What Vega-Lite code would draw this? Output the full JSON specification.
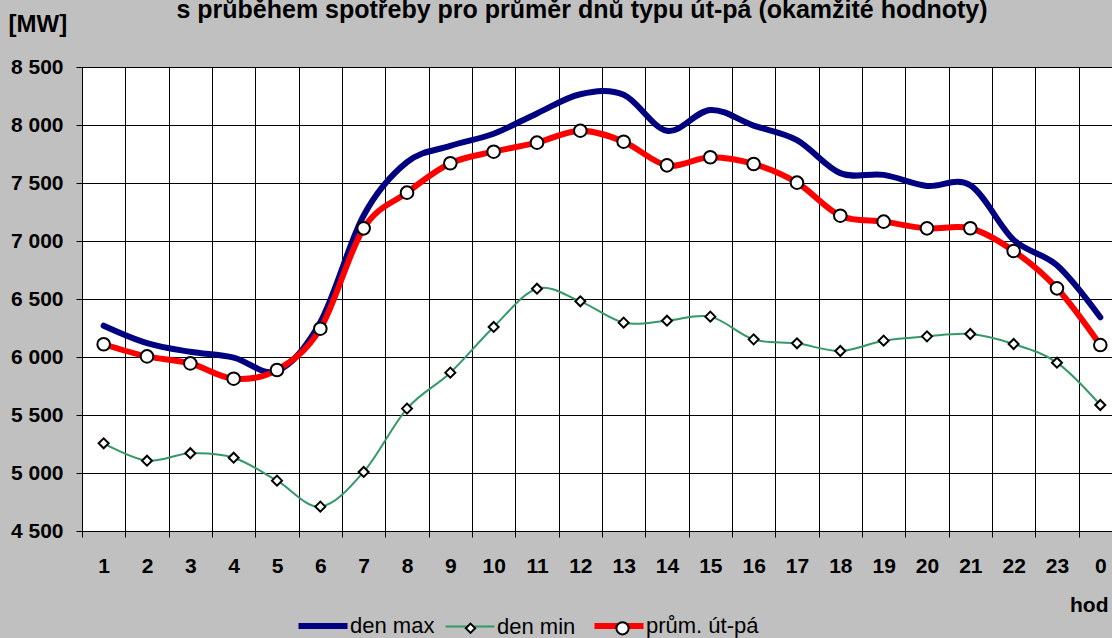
{
  "$schema": "https://vega.github.io/schema/vega-lite/v6.json",
  "width": 1030,
  "height": 464,
  "autosize": {"type": "none"},
  "padding": {"left": 82, "top": 67, "right": 0, "bottom": 107},
  "background": "#C0C0C0",
  "config": {"view": {"fill": "white", "stroke": null}, "font": "Liberation Sans"},
  "title": {"text": "s  průběhem spotřeby pro průměr dnů typu út-pá (okamžité hodnoty)", "fontSize": 25, "font": "Liberation Sans", "fontWeight": "bold", "color": "black", "anchor": "middle", "dx": -15, "offset": -31, "baseline": "alphabetic"},
  "data": {"values": [
    {"h": 1, "serie": "den max", "mw": 6270}, {"h": 2, "serie": "den max", "mw": 6120}, {"h": 3, "serie": "den max", "mw": 6045}, {"h": 4, "serie": "den max", "mw": 5995},
    {"h": 5, "serie": "den max", "mw": 5880}, {"h": 6, "serie": "den max", "mw": 6300}, {"h": 7, "serie": "den max", "mw": 7220}, {"h": 8, "serie": "den max", "mw": 7680},
    {"h": 9, "serie": "den max", "mw": 7820}, {"h": 10, "serie": "den max", "mw": 7925}, {"h": 11, "serie": "den max", "mw": 8100}, {"h": 12, "serie": "den max", "mw": 8265},
    {"h": 13, "serie": "den max", "mw": 8260}, {"h": 14, "serie": "den max", "mw": 7950}, {"h": 15, "serie": "den max", "mw": 8130}, {"h": 16, "serie": "den max", "mw": 7995},
    {"h": 17, "serie": "den max", "mw": 7870}, {"h": 18, "serie": "den max", "mw": 7585}, {"h": 19, "serie": "den max", "mw": 7570}, {"h": 20, "serie": "den max", "mw": 7475},
    {"h": 21, "serie": "den max", "mw": 7480}, {"h": 22, "serie": "den max", "mw": 7010}, {"h": 23, "serie": "den max", "mw": 6790}, {"h": 24, "serie": "den max", "mw": 6342},
    {"h": 1, "serie": "den min", "mw": 5256}, {"h": 2, "serie": "den min", "mw": 5106}, {"h": 3, "serie": "den min", "mw": 5170}, {"h": 4, "serie": "den min", "mw": 5132},
    {"h": 5, "serie": "den min", "mw": 4934}, {"h": 6, "serie": "den min", "mw": 4710}, {"h": 7, "serie": "den min", "mw": 5009}, {"h": 8, "serie": "den min", "mw": 5555},
    {"h": 9, "serie": "den min", "mw": 5865}, {"h": 10, "serie": "den min", "mw": 6259}, {"h": 11, "serie": "den min", "mw": 6589}, {"h": 12, "serie": "den min", "mw": 6480},
    {"h": 13, "serie": "den min", "mw": 6296}, {"h": 14, "serie": "den min", "mw": 6313}, {"h": 15, "serie": "den min", "mw": 6348}, {"h": 16, "serie": "den min", "mw": 6152},
    {"h": 17, "serie": "den min", "mw": 6118}, {"h": 18, "serie": "den min", "mw": 6052}, {"h": 19, "serie": "den min", "mw": 6141}, {"h": 20, "serie": "den min", "mw": 6178},
    {"h": 21, "serie": "den min", "mw": 6198}, {"h": 22, "serie": "den min", "mw": 6112}, {"h": 23, "serie": "den min", "mw": 5951}, {"h": 24, "serie": "den min", "mw": 5586},
    {"h": 1, "serie": "prům. út-pá", "mw": 6110}, {"h": 2, "serie": "prům. út-pá", "mw": 6005}, {"h": 3, "serie": "prům. út-pá", "mw": 5945}, {"h": 4, "serie": "prům. út-pá", "mw": 5813},
    {"h": 5, "serie": "prům. út-pá", "mw": 5888}, {"h": 6, "serie": "prům. út-pá", "mw": 6244}, {"h": 7, "serie": "prům. út-pá", "mw": 7109}, {"h": 8, "serie": "prům. út-pá", "mw": 7417},
    {"h": 9, "serie": "prům. út-pá", "mw": 7670}, {"h": 10, "serie": "prům. út-pá", "mw": 7770}, {"h": 11, "serie": "prům. út-pá", "mw": 7848}, {"h": 12, "serie": "prům. út-pá", "mw": 7951},
    {"h": 13, "serie": "prům. út-pá", "mw": 7856}, {"h": 14, "serie": "prům. út-pá", "mw": 7652}, {"h": 15, "serie": "prům. út-pá", "mw": 7722}, {"h": 16, "serie": "prům. út-pá", "mw": 7664},
    {"h": 17, "serie": "prům. út-pá", "mw": 7503}, {"h": 18, "serie": "prům. út-pá", "mw": 7218}, {"h": 19, "serie": "prům. út-pá", "mw": 7167}, {"h": 20, "serie": "prům. út-pá", "mw": 7109},
    {"h": 21, "serie": "prům. út-pá", "mw": 7110}, {"h": 22, "serie": "prům. út-pá", "mw": 6914}, {"h": 23, "serie": "prům. út-pá", "mw": 6592}, {"h": 24, "serie": "prům. út-pá", "mw": 6103}
  ]},
  "encoding": {
    "x": {
      "field": "h", "type": "quantitative",
      "scale": {"domain": [0.5, 24.27], "nice": false, "zero": false},
      "axis": {
        "values": [0.5, 1, 1.5, 2, 2.5, 3, 3.5, 4, 4.5, 5, 5.5, 6, 6.5, 7, 7.5, 8, 8.5, 9, 9.5, 10, 10.5, 11, 11.5, 12, 12.5, 13, 13.5, 14, 14.5, 15, 15.5, 16, 16.5, 17, 17.5, 18, 18.5, 19, 19.5, 20, 20.5, 21, 21.5, 22, 22.5, 23, 23.5, 24],
        "labelExpr": "datum.value % 1 != 0 ? '' : (datum.value == 24 ? '0' : '' + datum.value)",
        "labelOverlap": false, "labelFlush": false,
        "labelFontSize": 21, "labelFontWeight": "bold", "labelColor": "black", "labelFont": "Liberation Sans",
        "labelPadding": 18,
        "tickSize": 6, "tickColor": "black",
        "tickOpacity": {"condition": {"test": "datum.value % 1 != 0", "value": 1}, "value": 0},
        "grid": true, "gridColor": "black", "gridWidth": 1,
        "gridOpacity": {"condition": {"test": "datum.value % 1 != 0", "value": 1}, "value": 0},
        "domainColor": "black", "domainWidth": 1,
        "title": "hod", "titleFontSize": 21, "titleFontWeight": "bold", "titleColor": "black", "titleFont": "Liberation Sans",
        "titleAnchor": "start", "titleAlign": "right", "titleBaseline": "alphabetic", "titleX": 1026, "titleY": 80
      }
    },
    "y": {
      "field": "mw", "type": "quantitative",
      "scale": {"domain": [4500, 8500], "nice": false, "zero": false},
      "axis": {
        "values": [4500, 5000, 5500, 6000, 6500, 7000, 7500, 8000, 8500],
        "labelExpr": "replace(format(datum.value, ','), ',', ' ')",
        "labelFontSize": 21, "labelFontWeight": "bold", "labelColor": "black", "labelFont": "Liberation Sans",
        "labelPadding": 13, "tickSize": 6, "tickColor": "black",
        "grid": true, "gridColor": "black", "gridWidth": 1,
        "domainColor": "black",
        "title": "[MW]", "titleAngle": 0, "titleFontSize": 24, "titleFontWeight": "bold", "titleColor": "black", "titleFont": "Liberation Sans",
        "titleAnchor": "start", "titleAlign": "left", "titleBaseline": "alphabetic", "titleX": -74, "titleY": -36
      }
    }
  },
  "layer": [
    {
      "transform": [{"filter": "datum.serie === 'den max'"}],
      "mark": {"type": "line", "interpolate": "cardinal", "strokeWidth": 6, "strokeCap": "round"},
      "encoding": {"stroke": {"field": "serie", "type": "nominal",
        "scale": {"domain": ["den max", "den min", "prům. út-pá"], "range": ["#000080", "#339966", "#FF0000"]},
        "legend": {"orient": "none", "legendX": 230, "legendY": 548, "direction": "horizontal", "title": null,
          "symbolType": "stroke", "symbolSize": 2401, "symbolStrokeWidth": 6,
          "labelFontSize": 22, "labelFont": "Liberation Sans", "labelColor": "black", "labelOffset": 16, "columnPadding": 6, "zindex": 1,
          "encode": {"symbols": {"update": {"strokeWidth": {"signal": "datum.value === 'den min' ? 2 : 6"}}}}}}}
    },
    {
      "transform": [{"filter": "datum.serie === 'den min'"}],
      "mark": {"type": "line", "interpolate": "cardinal", "strokeWidth": 2},
      "encoding": {"stroke": {"field": "serie", "type": "nominal"}}
    },
    {
      "transform": [{"filter": "datum.serie === 'prům. út-pá'"}],
      "mark": {"type": "line", "interpolate": "cardinal", "strokeWidth": 6},
      "encoding": {"stroke": {"field": "serie", "type": "nominal"}}
    },
    {
      "transform": [{"filter": "datum.serie === 'den min'"}],
      "mark": {"type": "point", "filled": true, "stroke": "black", "strokeWidth": 2, "size": 2770, "opacity": 1},
      "encoding": {
        "fill": {"field": "serie", "type": "nominal",
          "scale": {"domain": ["den max", "den min", "prům. út-pá", "-"], "range": ["transparent", "white", "white", "white"]},
          "legend": {"orient": "none", "legendX": 205, "legendY": 535.5, "direction": "horizontal", "title": null,
            "values": ["den max", "den min", "prům. út-pá"],
            "symbolSize": 2401, "symbolStrokeWidth": 2,
            "labelFontSize": 22, "labelFont": "Liberation Sans", "labelOpacity": 0, "labelOffset": 16, "columnPadding": 6, "zindex": 2}},
        "shape": {"field": "serie", "type": "nominal",
          "scale": {"domain": ["den max", "den min", "prům. út-pá", "-"], "range": ["M0,0", "M-0.19,0L0,-0.19L0.19,0L0,0.19Z", "M-0.25,0A0.25,0.25,0,1,1,0.25,0A0.25,0.25,0,1,1,-0.25,0Z", "M0,0"]},
          "legend": {"orient": "none", "legendX": 205, "legendY": 535.5, "direction": "horizontal", "title": null,
            "values": ["den max", "den min", "prům. út-pá"],
            "symbolSize": 2401, "symbolStrokeWidth": 2,
            "labelFontSize": 22, "labelFont": "Liberation Sans", "labelOpacity": 0, "labelOffset": 16, "columnPadding": 6, "zindex": 2}}
      }
    },
    {
      "transform": [{"filter": "datum.serie === 'prům. út-pá'"}],
      "mark": {"type": "point", "filled": true, "stroke": "black", "strokeWidth": 2, "size": 2540, "opacity": 1},
      "encoding": {"fill": {"field": "serie", "type": "nominal"}, "shape": {"field": "serie", "type": "nominal"}}
    }
  ]
}
